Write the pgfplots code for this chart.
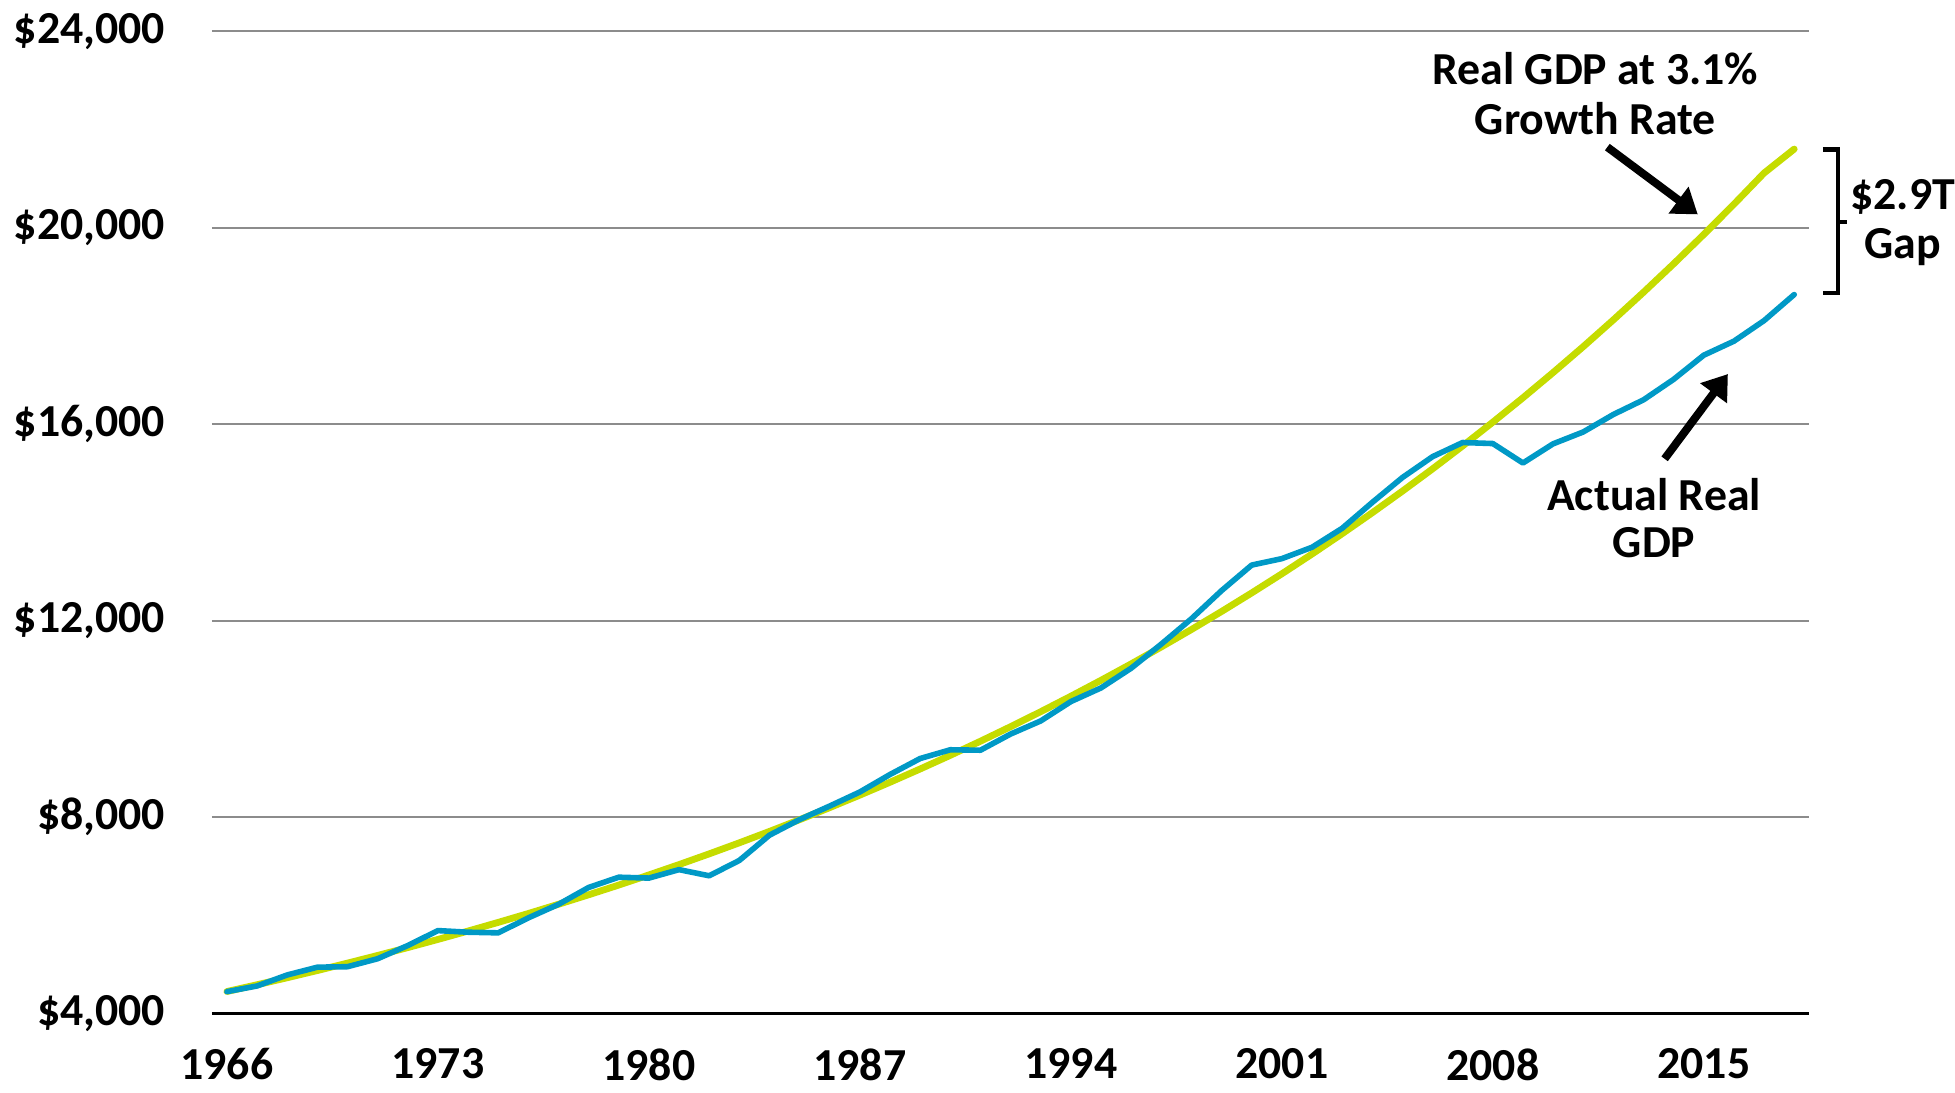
\documentclass[border=0pt]{standalone}
\usepackage{pgfplots}
\pgfplotsset{compat=1.18}
\usetikzlibrary{arrows.meta}
\usepackage{fontspec}
\setmainfont{Carlito}
\definecolor{gdpblue}{RGB}{0,153,198}
\definecolor{gdpgreen}{RGB}{197,220,0}
\definecolor{gridgray}{RGB}{140,140,140}
\begin{document}
\begin{tikzpicture}
\begin{axis}[
  scale only axis,
  width=399.5bp, height=245.7bp,
  xmin=1965.5, xmax=2018.5,
  ymin=4000, ymax=24000,
  scaled y ticks=false,
  clip=false,
  axis x line*=bottom, axis y line*=left,
  axis line style={-},
  y axis line style={draw=none},
  x axis line style={line width=0.9bp, black},
  major tick length=0pt,
  ymajorgrids,
  grid style={gridgray, line width=0.45bp},
  xtick={1966,1973,1980,1987,1994,2001,2008,2015},
  xticklabels={1966,1973,1980,1987,1994,2001,2008,2015},
  ytick={4000,8000,12000,16000,20000,24000},
  yticklabels={{\$4,000},{\$8,000},{\$12,000},{\$16,000},{\$20,000},{\$24,000}},
  tick label style={font=\bfseries\fontsize{11.5}{13}\selectfont, inner sep=0.5bp},
  yticklabel style={anchor=east, xshift=-11bp},
  xticklabel style={anchor=north, yshift=-8bp},
]
\addplot[gdpgreen, line width=1.7bp, line join=round, line cap=round] coordinates {
(1966,4450)(1967,4588)(1968,4730)(1969,4877)(1970,5028)(1971,5184)(1972,5344)(1973,5510)
(1974,5681)(1975,5857)(1976,6038)(1977,6226)(1978,6419)(1979,6617)(1980,6823)(1981,7034)
(1982,7252)(1983,7477)(1984,7709)(1985,7948)(1986,8194)(1987,8448)(1988,8710)(1989,8980)
(1990,9258)(1991,9545)(1992,9841)(1993,10146)(1994,10461)(1995,10785)(1996,11119)(1997,11464)
(1998,11819)(1999,12186)(2000,12564)(2001,12953)(2002,13355)(2003,13769)(2004,14196)(2005,14636)
(2006,15089)(2007,15557)(2008,16040)(2009,16537)(2010,17050)(2011,17578)(2012,18123)(2013,18685)
(2014,19264)(2015,19862)(2016,20477)(2017,21112)(2018,21600)};
\addplot[gdpblue, line width=1.4bp, line join=round, line cap=round] coordinates {
(1966,4447)(1967,4563)(1968,4787)(1969,4945)(1970,4955)(1971,5117)(1972,5386)(1973,5690)
(1974,5657)(1975,5644)(1976,5949)(1977,6224)(1978,6568)(1979,6777)(1980,6759)(1981,6931)
(1982,6806)(1983,7118)(1984,7632)(1985,7951)(1986,8226)(1987,8512)(1988,8868)(1989,9193)
(1990,9371)(1991,9362)(1992,9691)(1993,9958)(1994,10352)(1995,10630)(1996,11031)(1997,11522)
(1998,12038)(1999,12611)(2000,13131)(2001,13262)(2002,13493)(2003,13879)(2004,14406)(2005,14913)
(2006,15338)(2007,15626)(2008,15605)(2009,15209)(2010,15599)(2011,15841)(2012,16197)(2013,16495)
(2014,16912)(2015,17404)(2016,17689)(2017,18108)(2018,18638)};
\node[font=\bfseries\fontsize{11.5}{13}\selectfont] at (axis cs:2011.4,23239) {Real GDP at 3.1\%};
\node[font=\bfseries\fontsize{11.5}{13}\selectfont] at (axis cs:2011.4,22223) {Growth Rate};
\draw[line width=2bp, -{Triangle[length=6bp,width=8bp]}] (axis cs:2011.8,21640) -- (axis cs:2014.8,20270);
\node[font=\bfseries\fontsize{11.5}{13}\selectfont] at (axis cs:2013.35,14558) {Actual Real};
\node[font=\bfseries\fontsize{11.5}{13}\selectfont] at (axis cs:2013.35,13594) {GDP};
\draw[line width=2bp, -{Triangle[length=6bp,width=8bp]}] (axis cs:2013.7,15294) -- (axis cs:2015.8,17020);
\draw[line width=1.1bp] (axis cs:2018.95,21589) -- (axis cs:2019.45,21589) -- (axis cs:2019.45,18670) -- (axis cs:2018.95,18670);
\draw[line width=1.1bp] (axis cs:2019.45,20117) -- (axis cs:2019.75,20117);
\node[inner sep=0pt, font=\bfseries\fontsize{11.5}{13}\selectfont] at (axis cs:2021.6,20625) {\$2.9T};
\node[inner sep=0pt, font=\bfseries\fontsize{11.5}{13}\selectfont] at (axis cs:2021.6,19609) {Gap};
\path (axis cs:1958.47,2392) rectangle (axis cs:2023.31,24635);
\end{axis}
\end{tikzpicture}
\end{document}
